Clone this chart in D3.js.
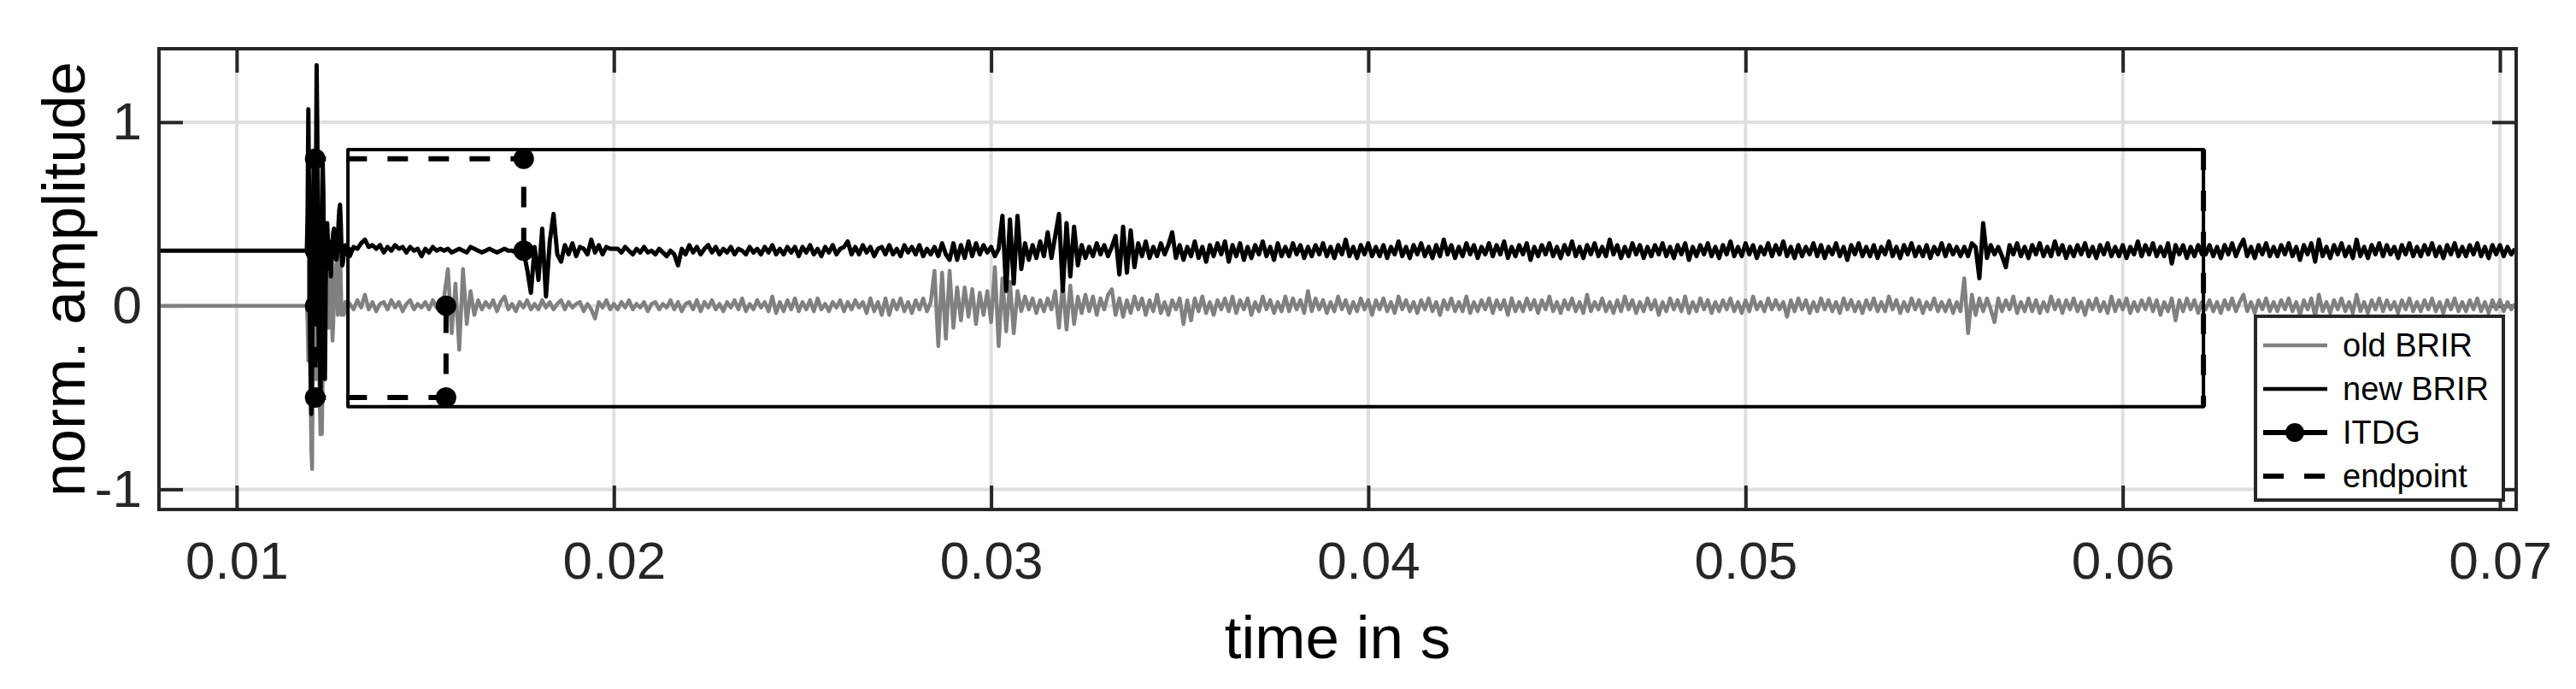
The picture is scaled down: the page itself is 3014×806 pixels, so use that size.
<!DOCTYPE html>
<html>
<head>
<meta charset="utf-8">
<script src="https://cdn.jsdelivr.net/npm/d3@7"></script>
<style>
  html, body { margin: 0; padding: 0; background: #fff; }
  svg { display: block; font-family: "Liberation Sans", Arial, sans-serif; }
</style>
</head>
<body>
<div id="vis"></div>
<script>
// ---- data ----

var xTicks = [0.01, 0.02, 0.03, 0.04, 0.05, 0.06, 0.07];
var yTicks = [-1, 0, 1];
var xDomain = [0.00794, 0.07043];
var yDomain = [-1.11, 1.40];

// amplitudes below are stored in hundredths
var ampUnit = 0.01;
// new BRIR is drawn shifted up so both curves can be seen
var newOffset = 0.3;

// silence before the direct sound
var leadStart = 0.0079;

// direct sound, fine sampling
var burstStart = 0.01184;
var burstStep = 0.00002;
var oldBurst = [
  0, 0, -10, -30, 20, 40, -50, -80, -89, -30,
  40, 60, 20, -40, 30, 70, 40, -20, -50, -70,
  -60, -70, -40, 10, 20, -10, -5, 15, 25, 5,
  -12, 0, 10, 15, 0, -19, -10, 5, 15, 20,
  23, 10, -5, 5, 20, 30, 15, -5, -3, 0,
  -5, -3, 2, 0, -2, 0, 2, 1
];
var newBurst = [
  0, 0, 20, 77, 30, -40, -70, -89, -60, 10,
  50, 20, -40, 30, 101, 60, -20, -60, -30, -83,
  -40, 20, 49, 30, -30, -70, -20, 10, 15, 5,
  -10, 5, -5, -14, -5, 5, 10, 12, 8, -2,
  -5, -3, 5, 15, 22, 25, 15, 0, -8, -6,
  -2, 2, 3, 1, 2, -2, -1, 1
];

// reflections up to the endpoint
var bodyStart = 0.0130;
var bodyStep = 0.0001;
var oldBody = [
  1, -2, 3, -1, 6, -2, 2, -3, 1, 2,
  -2, 3, -1, 2, -3, 1, 3, -2, 1, -1,
  2, -2, 3, -1, 0, 5, 20, -15, 12, -24,
  20, -10, 8, -5, 3, -2, 2, -1, 3, -3,
  2, 5, -2, 1, -3, 2, -1, 3, -2, 1,
  -2, 3, -1, 2, -2, 1, 3, -2, 2, -1,
  1, 2, -3, 1, -2, -7, 2, -1, 3, -2,
  1, -2, 2, -1, 3, -2, 1, -1, 2, -3,
  1, 2, -2, 1, -1, 3, -2, 2, -3, 1,
  2, -2, 3, -3, 2, -1, 3, -2, 1, -3,
  2, -1, 3, -2, 4, -3, 1, -2, 3, -1,
  2, -3, 5, -4, 2, -3, 3, -2, 4, -3,
  2, -2, 3, -3, 4, -2, 1, -3, 2, -1,
  3, -3, 2, -2, 3, -1, 2, -4, 4, -3,
  2, -5, 4, -5, 3, -2, 4, -3, 2, -4,
  3, -2, 4, -3, 2, 19, -22, 18, -18, 19,
  -12, 10, -8, 10, -6, 9, -10, 7, -5, 8,
  -9, 21, -22, 15, -14, 13, -15, 8, -3, 5,
  -2, 4, -4, 3, -3, 4, -2, 8, -12, 12,
  -13, 11, -10, 5, -4, 6, -3, 5, -5, 4,
  -2, 6, 9, -5, 4, -6, 3, -4, 5, -2,
  4, -5, 3, -3, 6, -4, 2, -5, 3, -2,
  4, -10, 3, -8, 4, -3, 5, -4, 2, -5,
  3, -2, 4, -3, 5, -4, 3, -2, 4, -5,
  2, -3, 5, -2, 3, -4, 2, -3, 5, -3,
  4, -2, 3, -4, 8, -3, 4, -2, 3, -4,
  2, -3, 5, -2, 3, -4, 2, -3, 4, -2,
  3, -5, 3, -2, 4, -3, 2, -4, 5, -2,
  3, -3, 2, -4, 3, -2, 4, -3, 2, -5,
  3, -2, 4, -3, 2, -3, 5, -4, 2, -3,
  3, -2, 4, -4, 3, -2, 3, -5, 4, -3,
  2, -3, 4, -2, 3, -4, 3, -2, 5, -3,
  2, -4, 3, -2, 4, -3, 2, -4, 6, -3,
  2, -2, 4, -3, 2, -4, 3, -3, 5, -2,
  3, -4, 2, -3, 4, -2, 3, -5, 2, -3,
  4, -2, 3, -3, 5, -4, 2, -3, 4, -2,
  3, -4, 2, -3, 3, -2, 4, -3, 2, -4,
  3, -3, 5, -2, 2, -3, 4, -2, 3, -2,
  2, -6, 3, -3, 4, -2, 3, -4, 2, -3,
  4, -2, 3, -3, 2, -4, 4, -2, 3, -3,
  2, -4, 3, -2, 4, -3, 2, -3, 5, -2,
  3, -4, 2, -3, 4, -2, 3, -4, 2, -2,
  4, -3, 2, -3, 3, -4, 2, -3, 15, -15,
  6, -5, 4, -3, 4, -2, -9, 4, -3, 3,
  -2, 5, -4, 2, -3, 4, -3, 3, -4, 2,
  -3, 5, -2, 3, -4, 3, -2, 4, -3, 2,
  -5, 3, -2, 4, -3, 2, -4, 5, -3, 3,
  -2, 4, -4, 2, -3, 3, -2, 4, -3, 3,
  -5, 2, -3, 4, -8, 3, -3, 4, -2, 3,
  -4, 2
];
var newBody = [
  -3, 2, 1, 4, 6, 2, 3, 1, 3, -1,
  2, 0, 3, 1, 2, -1, 2, 0, 1, -3,
  1, -1, 2, 0, 1, 0, 1, -1, 0, 1,
  0, -1, 2, 1, 0, -1, 0, 1, 0, -1,
  0, 1, 0, 0, -1, 0, 0, -10, -23, 2,
  -16, 12, -25, 5, 20, -2, -6, 3, -2, 4,
  -3, 2, 1, -2, 6, -1, 3, -2, 2, 1,
  1, 1, -1, 2, 0, -2, 1, -1, 2, -1,
  0, -2, 1, -1, -3, 0, -2, -8, 1, -2,
  3, -1, 2, -2, 1, 3, -1, 2, -2, 1,
  -1, 2, -2, 1, 0, -2, 2, -1, 1, -2,
  2, -1, 3, -2, 1, -2, 2, -1, 2, -3,
  2, -1, 3, -2, 1, -3, 2, -1, 3, -2,
  1, 2, 5, -2, 2, -2, 3, -1, 2, -3,
  1, 2, -2, 3, -2, 1, -3, 3, -1, 2,
  -2, 3, -3, 1, -2, 2, -3, 4, -2, -5,
  4, -5, 3, -4, 5, -3, 4, -2, 3, -1,
  2, -3, 1, 19, -22, 17, -18, 19, -10, 4,
  -5, 3, -4, 5, -3, 10, -4, 8, 20, -22,
  15, -14, 13, -8, 3, -4, 2, -3, 4, -2,
  3, -3, 2, 8, -13, 13, -12, 11, -9, 4,
  -3, 5, -4, 2, -3, 4, -2, 3, 10, -4,
  3, -5, 2, -3, 5, -4, 2, -6, 3, -3,
  4, -2, 5, -6, 3, -3, 4, -5, 2, -4,
  3, -2, 5, -3, 2, -5, 4, -3, 2, -3,
  4, -2, 3, -4, 2, -3, 3, -2, 4, -3,
  2, -4, 3, -2, 6, -3, 2, -4, 3, -2,
  4, -3, 2, -3, 3, -4, 2, -2, 5, -3,
  2, -4, 3, -2, 4, -3, 2, -4, 3, -3,
  6, -2, 3, -4, 2, -3, 4, -2, 3, -4,
  2, -2, 4, -3, 3, -2, 5, -4, 2, -3,
  3, -2, 4, -5, 2, -3, 3, -2, 4, -3,
  2, -4, 3, -2, 5, -3, 2, -4, 3, -2,
  4, -3, 2, -3, 6, -2, 3, -4, 2, -3,
  4, -2, 3, -4, 2, -3, 3, -2, 4, -3,
  2, -4, 3, -2, 4, -5, 2, -3, 3, -2,
  4, -3, 2, -4, 3, -2, 5, -3, 2, -3,
  4, -2, 3, -4, 2, -2, 4, -3, 3, -2,
  5, -3, 2, -4, 3, -3, 2, -2, 4, -3,
  3, -4, 2, -2, 4, -3, 2, -5, 3, -2,
  4, -3, 2, -3, 3, -4, 2, -2, 5, -3,
  2, -4, 3, -2, 4, -3, 2, -3, 3, -4,
  2, -2, 4, -3, 3, -2, 2, -3, 2, -3,
  4, 2, -15, 15, -4, 3, -2, 2, -3, -9,
  3, -2, 4, -3, 2, -4, 3, -2, 4, -3,
  2, -3, 5, -2, 3, -4, 2, -3, 3, -2,
  4, -3, 2, -4, 3, -2, 4, -3, 2, -3,
  3, -4, 2, -2, 5, -3, 3, -2, 4, -3,
  2, -3, 4, -7, 3, -2, 3, -4, 2, -3,
  3, -2
];

// after the endpoint both responses are the same
var tailStart = 0.0622;
var tailStep = 0.0001;
var sharedTail = [
  -2, 3, -3, 2, -4, 3, -2, 4, -3, 2,
  6, -3, 2, -4, 3, -2, 4, -3, 2, -3,
  3, -2, 4, -3, 2, -5, 3, -2, 4, -6,
  6, -3, 2, -4, 3, -2, 4, -3, 2, -4,
  6, -3, 2, -4, 3, -2, 4, -3, 3, -2,
  2, -4, 3, -2, 4, -3, 2, -3, 3, -2,
  4, -3, 2, -4, 3, -2, 4, -3, 2, -3,
  3, -2, 4, -3, 2, -4, 3, -2, 3, -3,
  2, -2, 1
];

// ITDG brackets [time, amplitude]
var itdgNew = [[0.01208, 0.3], [0.01208, 0.8], [0.01761, 0.8], [0.01761, 0.3]];
var itdgOld = [[0.01208, 0], [0.01208, -0.5], [0.01555, -0.5], [0.01555, 0]];

// analysed window and its endpoint
var windowStart = 0.01295;
var endpointTime = 0.06214;
var windowLow = -0.55;
var windowHigh = 0.85;

var legendNames = ['old BRIR', 'new BRIR', 'ITDG', 'endpoint'];

// ---- chart ----

var width = 3014;
var height = 806;
var plot = { left: 186, right: 2944, top: 57, bottom: 596 };

var x = d3.scaleLinear().domain(xDomain).range([plot.left, plot.right]);
var y = d3.scaleLinear().domain(yDomain).range([plot.bottom, plot.top]);

function samples(t0, dt, vals, offset) {
  return vals.map(function (v, i) { return [t0 + i * dt, v * ampUnit + offset]; });
}

function buildSeries(burst, body, offset) {
  return [[leadStart, offset]]
    .concat(samples(burstStart, burstStep, burst, offset))
    .concat(samples(bodyStart, bodyStep, body, offset))
    .concat(samples(tailStart, tailStep, sharedTail, offset));
}

var oldSeries = buildSeries(oldBurst, oldBody, 0);
var newSeries = buildSeries(newBurst, newBody, newOffset);

var svg = d3.select('#vis').append('svg')
  .attr('width', width)
  .attr('height', height);

svg.append('defs').append('clipPath').attr('id', 'plotClip')
  .append('rect')
  .attr('x', plot.left).attr('y', plot.top)
  .attr('width', plot.right - plot.left)
  .attr('height', plot.bottom - plot.top);

// grid
var grid = svg.append('g').attr('stroke', '#dfdfdf').attr('stroke-width', 4);
grid.selectAll('.vgrid').data(xTicks).enter().append('line')
  .attr('x1', function (d) { return x(d); }).attr('x2', function (d) { return x(d); })
  .attr('y1', plot.top).attr('y2', plot.bottom);
grid.selectAll('.hgrid').data(yTicks).enter().append('line')
  .attr('y1', function (d) { return y(d); }).attr('y2', function (d) { return y(d); })
  .attr('x1', plot.left).attr('x2', plot.right);

// axes with inward ticks on all four sides
function styleAxis(g) {
  g.select('.domain').remove();
  g.selectAll('.tick line').attr('stroke', '#262626').attr('stroke-width', 4);
  g.selectAll('.tick text').attr('fill', '#262626').style('font-size', '62px')
    .style('font-family', '"Liberation Sans", Arial, sans-serif');
}

svg.append('g')
  .attr('transform', 'translate(0,' + plot.bottom + ')')
  .call(d3.axisBottom(x).tickValues(xTicks).tickSize(-28).tickSizeOuter(0).tickPadding(37)
    .tickFormat(d3.format('.2f')))
  .call(styleAxis);

svg.append('g')
  .attr('transform', 'translate(0,' + plot.top + ')')
  .call(d3.axisTop(x).tickValues(xTicks).tickSize(-28).tickSizeOuter(0).tickFormat(''))
  .call(styleAxis);

svg.append('g')
  .attr('transform', 'translate(' + plot.left + ',0)')
  .call(d3.axisLeft(y).tickValues(yTicks).tickSize(-28).tickSizeOuter(0).tickPadding(20)
    .tickFormat(function (d) { return d < 0 ? '-' + Math.abs(d) : String(d); }))
  .call(styleAxis);

svg.append('g')
  .attr('transform', 'translate(' + plot.right + ',0)')
  .call(d3.axisRight(y).tickValues(yTicks).tickSize(-28).tickSizeOuter(0).tickFormat(''))
  .call(styleAxis);

// signals
var line = d3.line()
  .x(function (d) { return x(d[0]); })
  .y(function (d) { return y(d[1]); });

var traces = svg.append('g').attr('clip-path', 'url(#plotClip)')
  .attr('fill', 'none').attr('stroke-linejoin', 'round');

traces.append('path').datum(oldSeries)
  .attr('d', line).attr('stroke', '#808080').attr('stroke-width', 4.5);

traces.append('path').datum(newSeries)
  .attr('d', line).attr('stroke', '#000').attr('stroke-width', 5);

// analysed window
traces.append('rect')
  .attr('x', x(windowStart)).attr('y', y(windowHigh))
  .attr('width', x(endpointTime) - x(windowStart))
  .attr('height', y(windowLow) - y(windowHigh))
  .attr('stroke', '#000').attr('stroke-width', 4);

traces.append('line')
  .attr('x1', x(endpointTime)).attr('x2', x(endpointTime))
  .attr('y1', y(windowHigh)).attr('y2', y(windowLow))
  .attr('stroke', '#000').attr('stroke-width', 6).attr('stroke-dasharray', '24,24');

// ITDG brackets
[itdgNew, itdgOld].forEach(function (pts) {
  traces.append('path').datum(pts)
    .attr('d', line).attr('stroke', '#000').attr('stroke-width', 6)
    .attr('stroke-dasharray', '24,24');
  traces.selectAll(null).data(pts).enter().append('circle')
    .attr('cx', function (d) { return x(d[0]); })
    .attr('cy', function (d) { return y(d[1]); })
    .attr('r', 12).attr('fill', '#000');
});

// frame
svg.append('rect')
  .attr('x', plot.left).attr('y', plot.top)
  .attr('width', plot.right - plot.left).attr('height', plot.bottom - plot.top)
  .attr('fill', 'none').attr('stroke', '#262626').attr('stroke-width', 4);

// axis labels
svg.append('text')
  .attr('x', (plot.left + plot.right) / 2).attr('y', 770)
  .attr('text-anchor', 'middle')
  .style('font-size', '71px')
  .text('time in s');

svg.append('text')
  .attr('transform', 'translate(99,' + (plot.top + plot.bottom) / 2 + ') rotate(-90)')
  .attr('text-anchor', 'middle')
  .style('font-size', '71px')
  .text('norm. amplitude');

// legend
var legend = svg.append('g');
legend.append('rect')
  .attr('x', 2639).attr('y', 370).attr('width', 290).attr('height', 215)
  .attr('fill', '#fff').attr('stroke', '#262626').attr('stroke-width', 4);

var rows = legend.selectAll('.row').data(legendNames).enter().append('g')
  .attr('transform', function (d, i) { return 'translate(2648,' + (404 + i * 51) + ')'; });

rows.append('line')
  .attr('x1', 0).attr('x2', 75).attr('y1', 0).attr('y2', 0)
  .attr('stroke', function (d, i) { return i === 0 ? '#808080' : '#000'; })
  .attr('stroke-width', function (d, i) { return i < 2 ? 4.5 : 6; })
  .attr('stroke-dasharray', function (d, i) { return i === 3 ? '24,24' : null; });

rows.filter(function (d, i) { return i === 2; }).append('circle')
  .attr('cx', 37).attr('cy', 0).attr('r', 11).attr('fill', '#000');

rows.append('text')
  .attr('x', 93).attr('y', 0)
  .attr('dominant-baseline', 'central')
  .style('font-size', '38px')
  .text(function (d) { return d; });
</script>
</body>
</html>
